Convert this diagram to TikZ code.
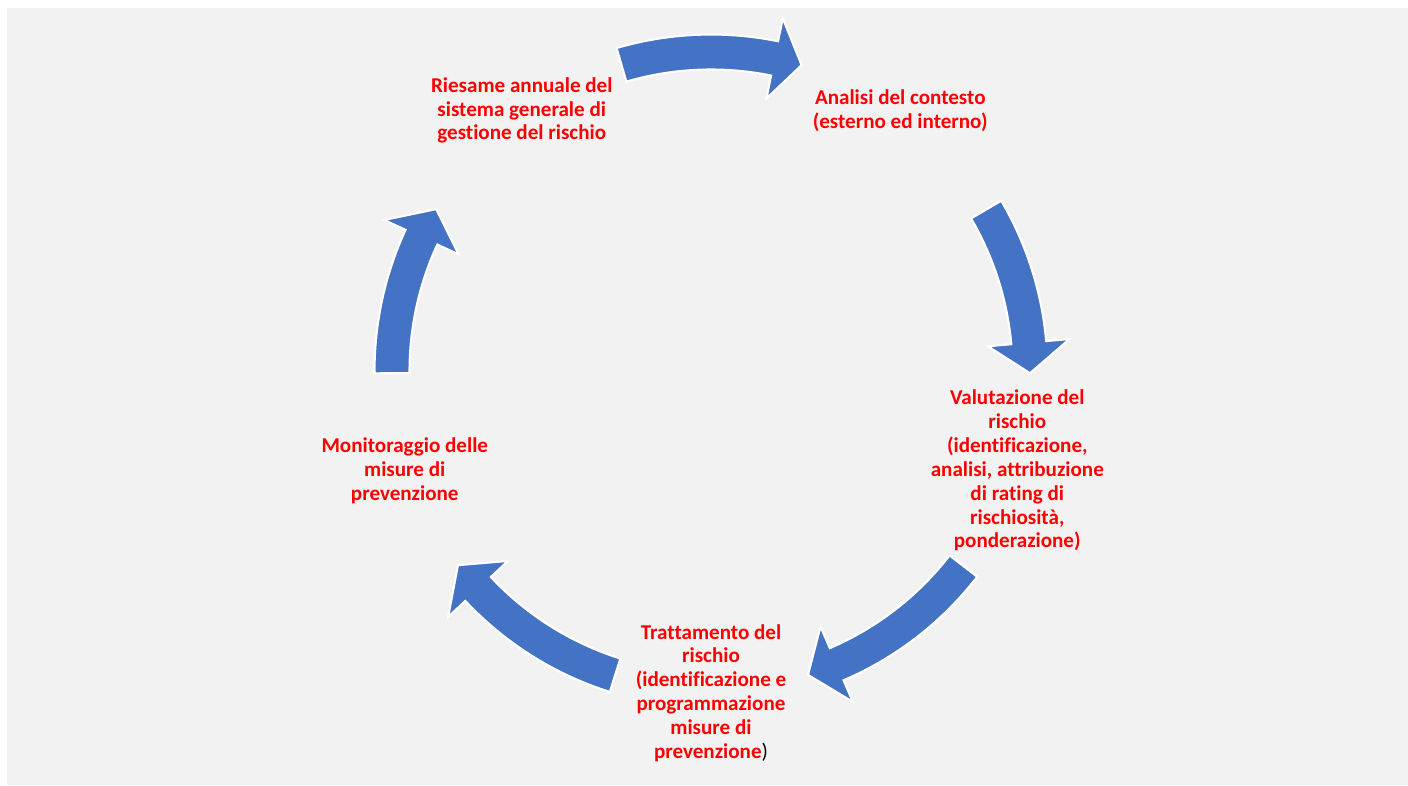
\documentclass[tikz,border=0pt]{standalone}
\usepackage{fontspec}
\setmainfont[Ligatures=NoCommon]{Carlito}
\definecolor{blu}{HTML}{4472C4}
\definecolor{grigio}{HTML}{F2F2F2}
\definecolor{rosso}{HTML}{FF0000}
\begin{document}
\begin{tikzpicture}[x=0.02cm, y=0.02cm,
    fase/.style={text=rosso, font=\bfseries\fontsize{12}{13.6}\selectfont, align=center, inner sep=0pt},
    freccia/.style={fill=blu, draw=white, line width=1.2pt, line join=miter}]
    \useasboundingbox (0,0) rectangle (1408,785);
    \fill[grigio] (7,0) rectangle (1408,777);
    \coordinate (O) at (711,414);

    % Fasi del ciclo
    \node[fase] (analisi) at ([shift={(O)}]54:322) {Analisi del contesto\\(esterno ed interno)};
    \node[fase] (valut) at ([shift={(O)}]342:322) {Valutazione del\\rischio\\(identificazione,\\analisi, attribuzione\\di rating di\\rischiosità,\\ponderazione)};
    \node[fase] (tratt) at ([shift={(O)}]270:322) {Trattamento del\\rischio\\(identificazione e\\programmazione\\misure di\\prevenzione{\color{black}\mdseries)}};
    \node[fase] (monit) at ([shift={(O)}]198:322) {Monitoraggio delle\\misure di\\prevenzione};
    \node[fase] (riesame) at ([shift={(O)}]126:322) {Riesame annuale del\\sistema generale di\\gestione del rischio};

    % Frecce (coda/base punta/punta)
    \foreach \t/\b/\p in {106.3/78.5/73.5, 30.4/5.1/-0.4, 322.3/293.2/287.7, 252.5/223.1/217.5, 180.4/155.2/149.5}
        \draw[freccia] ([shift={(O)}]\t:301.5) arc[start angle=\t, end angle=\b, radius=301.5]
            -- ([shift={(O)}]\b:278) -- ([shift={(O)}]\p:319) -- ([shift={(O)}]\b:360)
            -- ([shift={(O)}]\b:336.5) arc[start angle=\b, end angle=\t, radius=336.5] -- cycle;
\end{tikzpicture}
\end{document}
